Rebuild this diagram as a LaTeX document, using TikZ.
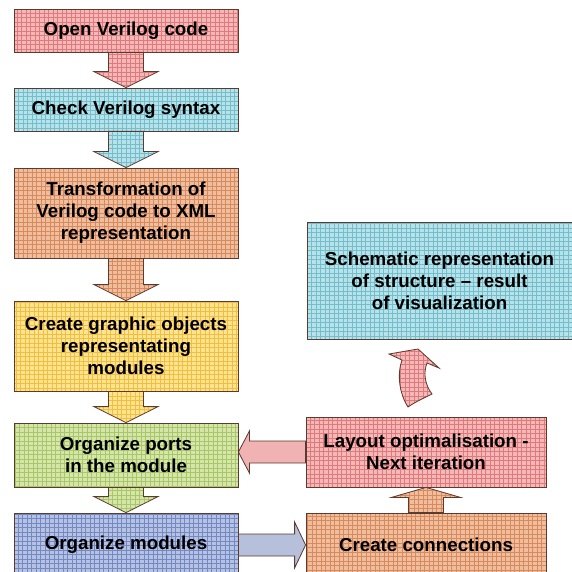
\documentclass[tikz,border=0pt]{standalone}
\usepackage{fontspec}
\setmainfont{Liberation Sans}
\usetikzlibrary{calc}
\definecolor{edge}{HTML}{5C3A2E}
\definecolor{redfill}{HTML}{F5B8B8}
\definecolor{redline}{HTML}{E07A7A}
\definecolor{cyanfill}{HTML}{B8E2EA}
\definecolor{cyanline}{HTML}{74BDCB}
\definecolor{orangefill}{HTML}{EFBE9F}
\definecolor{orangeline}{HTML}{D88A5C}
\definecolor{yellowfill}{HTML}{FFE48E}
\definecolor{yellowline}{HTML}{F2BD45}
\definecolor{greenfill}{HTML}{D6E6AA}
\definecolor{greenline}{HTML}{A8C76A}
\definecolor{bluefill}{HTML}{B5C2E2}
\definecolor{blueline}{HTML}{7489C4}
\definecolor{plainblue}{HTML}{B6C0DB}
\definecolor{plainred}{HTML}{F0B2B2}

% down block arrow from #1 to #2, grid colour #3
\newcommand{\downarr}[3]{%
\path[blk=#3] let \p1=(#1.south), \p2=(#2.north) in
  (\x1-0.525cm,\y1) -- (\x1-0.525cm,\y2+0.48cm) -- (\x1-0.96cm,\y2+0.48cm) -- (\x1,\y2)
  -- (\x1+0.96cm,\y2+0.48cm) -- (\x1+0.525cm,\y2+0.48cm) -- (\x1+0.525cm,\y1) -- cycle;}

\begin{document}
\begin{tikzpicture}[x=0.03cm,y=-0.03cm,
  grid/.style={fill=#1fill, path picture={\draw[#1line, line width=0.35pt, step=0.135cm]
    (path picture bounding box.south west) grid (path picture bounding box.north east);}},
  box/.style={grid=#1, draw=edge, line width=0.7pt, minimum width=224*0.03cm,
    align=center, inner sep=2pt, font=\bfseries\fontsize{16}{18.7}\selectfont},
  blk/.style={grid=#1, draw=edge, line width=0.7pt}]
\useasboundingbox (0,0) rectangle (572,571);

\node[box=red, minimum height=43*0.03cm] (open) at (126,30.5) {Open Verilog code};
\node[box=cyan, minimum height=43*0.03cm] (check) at (126,109.5) {Check Verilog syntax};
\node[box=orange, minimum height=90*0.03cm] (xml) at (126,213)
  {Transformation of\\Verilog code to XML\\representation};
\node[box=yellow, minimum height=90*0.03cm] (objects) at (126,346)
  {Create graphic objects\\representating\\modules};
\node[box=green, minimum height=64*0.03cm] (ports) at (126,455)
  {Organize ports\\in the module};
\node[box=blue, minimum height=64*0.03cm] (modules) at (126,545) {Organize modules};

\node[box=orange, minimum width=240*0.03cm, minimum height=64*0.03cm] (conn) at (426,545)
  {Create connections};
\node[box=red, minimum width=240*0.03cm, minimum height=70*0.03cm] (layout) at (426,452)
  {Layout optimalisation -\\Next iteration};
\node[box=cyan, minimum width=265*0.03cm, minimum height=117*0.03cm] (schem) at (439.5,280.5)
  {Schematic representation\\of structure -- result\\of visualization};

\downarr{open}{check}{red}
\downarr{check}{xml}{cyan}
\downarr{xml}{objects}{orange}
\downarr{objects}{ports}{yellow}
\downarr{ports}{modules}{green}

\path[fill=plainblue, draw=edge, line width=0.7pt] let \p1=(modules.east), \p2=(conn.west) in
  (\x1,\y1+0.33cm) -- (\x2-0.33cm,\y1+0.33cm) -- (\x2-0.33cm,\y1+0.69cm) -- (\x2,\y1)
  -- (\x2-0.33cm,\y1-0.69cm) -- (\x2-0.33cm,\y1-0.33cm) -- (\x1,\y1-0.33cm) -- cycle;

\path[fill=plainred, draw=edge, line width=0.7pt] let \p1=(layout.west), \p2=(ports.east) in
  (\x1,\y1+0.33cm) -- (\x2+0.33cm,\y1+0.33cm) -- (\x2+0.33cm,\y1+0.63cm) -- (\x2,\y1)
  -- (\x2+0.33cm,\y1-0.63cm) -- (\x2+0.33cm,\y1-0.33cm) -- (\x1,\y1-0.33cm) -- cycle;

\path[blk=orange] let \p1=(conn.north), \p2=(layout.south) in
  (\x1-0.525cm,\y1) -- (\x1-0.525cm,\y2-0.3cm) -- (\x1-1.035cm,\y2-0.3cm) -- (\x1,\y2)
  -- (\x1+1.035cm,\y2-0.3cm) -- (\x1+0.525cm,\y2-0.3cm) -- (\x1+0.525cm,\y1) -- cycle;

\path[blk=red] (408,407) .. controls (399,393) and (397,374) .. (402,360) -- (389,354)
  -- (418,349) -- (439,368) -- (427,363) .. controls (423,373) and (425,385) .. (432,394)
  .. controls (424,398) and (415,402) .. (408,407) -- cycle;
\end{tikzpicture}
\end{document}
